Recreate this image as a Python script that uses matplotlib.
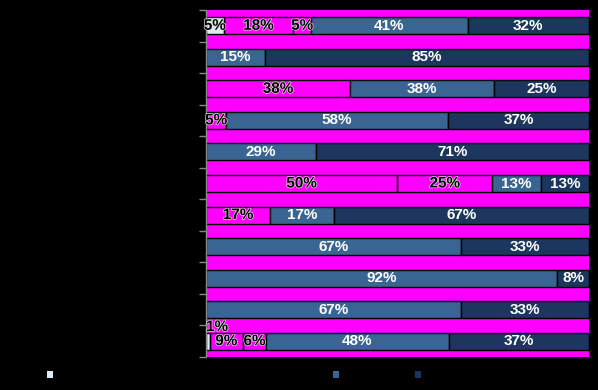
import matplotlib
matplotlib.use("Agg")
import matplotlib.pyplot as plt
import matplotlib.patheffects as pe
from matplotlib.patches import Patch
import numpy as np

# --- data: share of answers per item (%), one list per response level ---
items = ["Item 1", "Item 2", "Item 3", "Item 4", "Item 5", "Item 6",
         "Item 7", "Item 8", "Item 9", "Item 10", "Item 11"]
levels = ["Level 1", "Level 2", "Level 3", "Level 4", "Level 5"]

lvl1 = [4.6, 0, 0, 0, 0, 0, 0, 0, 0, 0, 1.0]
lvl2 = [18.2, 0, 37.6, 5.3, 0, 49.9, 16.7, 0, 0, 0, 8.6]
lvl3 = [4.6, 0, 0, 0, 0, 24.9, 0, 0, 0, 0, 6.1]
lvl4 = [40.9, 15.4, 37.6, 57.9, 28.6, 12.6, 16.7, 66.7, 91.7, 66.7, 47.7]
lvl5 = [31.7, 84.6, 24.8, 36.8, 71.4, 12.6, 66.6, 33.3, 8.3, 33.3, 36.6]

series = [lvl1, lvl2, lvl3, lvl4, lvl5]
colors = ["#deebf7", "none", "none", "#3a6491", "#1c365e"]
txt_colors = ["black", "black", "black", "white", "white"]

BG = "#000000"
MAGENTA = "#ff00ff"
FONT = ["Liberation Sans Narrow", "Liberation Sans", "DejaVu Sans"]

fig = plt.figure(figsize=(5.98, 3.90), dpi=100, facecolor=BG)
ax = fig.add_axes([206 / 598, 1 - 357 / 390, (589 - 206) / 598, (357 - 10) / 390])
ax.set_facecolor(MAGENTA)

y = np.arange(len(items))
left = np.zeros(len(items))
for k, vals in enumerate(series):
    vals = np.array(vals, dtype=float)
    m = vals > 0
    ax.barh(y[m], vals[m], left=left[m], height=0.54, color=colors[k],
            edgecolor="black", linewidth=1.0, label=levels[k])
    for i in np.where(m)[0]:
        lab = f"{vals[i]:.0f}%"
        if vals[i] < 2:
            # too narrow: put it above the bar
            t = ax.text(left[i], y[i] - 0.45, lab, ha="left", va="center",
                        color=txt_colors[k], fontsize=11, fontweight="bold",
                        family=FONT)
        else:
            t = ax.text(left[i] + vals[i] / 2, y[i], lab, ha="center", va="center",
                        color=txt_colors[k], fontsize=11, fontweight="bold",
                        family=FONT)
        if txt_colors[k] == "black":
            t.set_path_effects([pe.withStroke(linewidth=1.0, foreground="#dddddd")])
    left += vals

ax.set_xlim(0, 100)
ax.set_ylim(len(items) - 0.5, -0.5)
ax.set_yticks(y)
ax.set_yticklabels(items, color="black", fontsize=8)
ax.tick_params(axis="y", length=0)
ax.set_yticks(np.arange(len(items) + 1) - 0.5, minor=True)
ax.tick_params(axis="y", which="minor", length=5, color="#888888", width=1)
ax.set_xticks([])
for s in ax.spines.values():
    s.set_visible(False)
ax.spines["left"].set_visible(True)
ax.spines["left"].set_color("#888888")
ax.spines["left"].set_linewidth(1)

# legend: one entry per level, labels are black on black like the original
leg_x = [41, 123, 227, 327, 409]
for k in range(len(levels)):
    h = Patch(facecolor=colors[k], edgecolor=BG, linewidth=0)
    fig.legend([h], [levels[k]], loc="center left",
               bbox_to_anchor=(leg_x[k] / 598, 1 - 375.5 / 390),
               frameon=False, fontsize=8, handlelength=0.55, handleheight=0.55,
               handletextpad=0.5, borderpad=0, labelcolor="black")

fig.savefig("out.png", dpi=100, facecolor=BG)
